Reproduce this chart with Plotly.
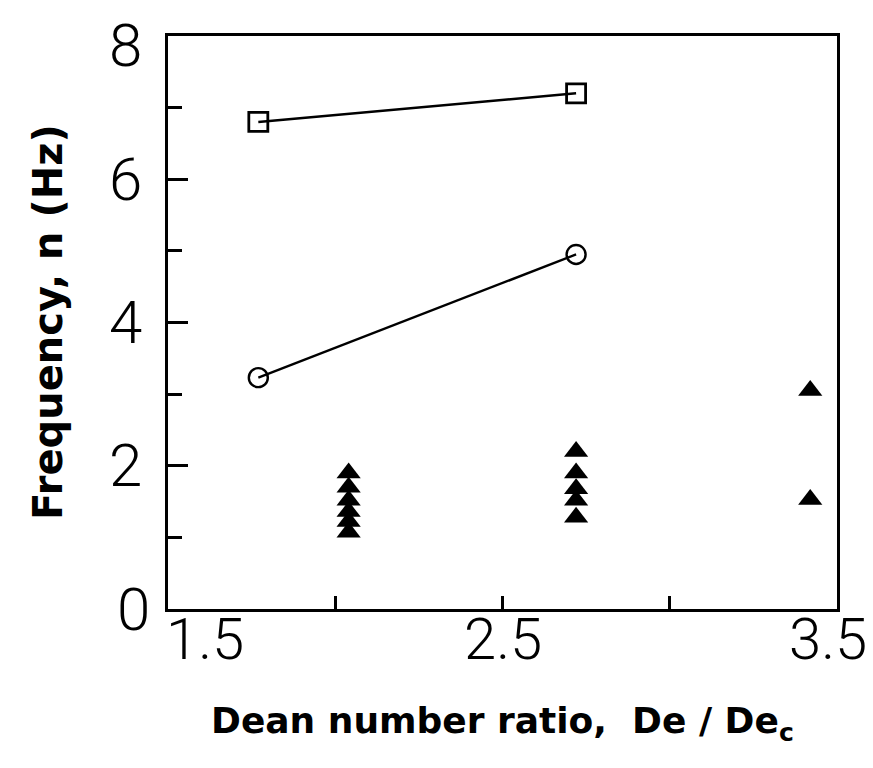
import plotly.graph_objects as go

# Data
sq_x = [1.77, 2.72]
sq_y = [6.8, 7.2]
circ_x = [1.77, 2.72]
circ_y = [3.23, 4.95]
tri1_x = [2.04] * 6
tri1_y = [1.9, 1.7, 1.52, 1.36, 1.22, 1.07]
tri2_x = [2.72] * 5
tri2_y = [2.2, 1.9, 1.68, 1.52, 1.28]
tri3_x = [3.42, 3.42]
tri3_y = [3.05, 1.53]

x_tickvals = [1.5, 2.0, 2.5, 3.0, 3.5]
x_label_vals = [1.5, 2.5, 3.5]
x_label_text = ["1.5", "2.5", "3.5"]
y_tickvals = [0, 2, 4, 6, 8]
y_ticktext = ["0", "2", "4", "6", "8"]

fig = go.Figure()
fig.add_trace(go.Scatter(x=sq_x, y=sq_y, mode="lines+markers",
                         line=dict(color="black", width=2.4),
                         marker=dict(symbol="square-open", size=19, color="black", line=dict(width=2.8))))
fig.add_trace(go.Scatter(x=circ_x, y=circ_y, mode="lines+markers",
                         line=dict(color="black", width=2.4),
                         marker=dict(symbol="circle-open", size=19, color="black", line=dict(width=2.4))))
for tx, ty in [(tri1_x, tri1_y), (tri2_x, tri2_y), (tri3_x, tri3_y)]:
    fig.add_trace(go.Scatter(x=tx, y=ty, mode="markers",
                             marker=dict(symbol="triangle-up", size=21, color="black")))

font_xt = dict(family="Roboto, Liberation Sans, Arial", size=58, color="black", weight=300)
font_yt = dict(family="Roboto, Liberation Sans, Arial", size=60, color="black", weight=300)
font_title_x = dict(family="DejaVu Sans", size=36, color="black", weight=700)
font_title_y = dict(family="DejaVu Sans", size=40, color="black", weight=700)

# x tick labels
n_lab = len(x_label_vals)
for i, (v, t) in enumerate(zip(x_label_vals, x_label_text)):
    if i == 0:
        anchor, shift = "left", -4
    elif i == n_lab - 1:
        anchor, shift = "right", 32
    else:
        anchor, shift = "center", 0
    fig.add_annotation(x=v, y=0, xref="x", yref="paper", text=t, showarrow=False,
                       xanchor=anchor, xshift=shift,
                       yanchor="top", yshift=6, font=font_xt)

# y tick labels
n_y = len(y_tickvals)
for i, (v, t) in enumerate(zip(y_tickvals, y_ticktext)):
    if i == n_y - 1:
        fig.add_annotation(x=0, y=1, xref="paper", yref="paper", text=t, showarrow=False,
                           xanchor="right", xshift=-24, yanchor="top", yshift=28, font=font_yt)
    else:
        fig.add_annotation(x=0, y=v, xref="paper", yref="y", text=t, showarrow=False,
                           xanchor="right", xshift=(-16 if v == 0 else -24),
                           yanchor="middle", font=font_yt)

fig.update_layout(
    width=873, height=768,
    margin=dict(l=160, r=44, t=28, b=167),
    paper_bgcolor="white", plot_bgcolor="white",
    showlegend=False,
    xaxis=dict(range=[1.5, 3.5], tickvals=x_tickvals, showticklabels=False,
               ticks="inside", ticklen=13, tickwidth=2.5, tickcolor="black",
               showline=True, linecolor="black", linewidth=3, mirror=True,
               showgrid=False, zeroline=False, automargin=False),
    yaxis=dict(range=[0, 8], tickvals=y_tickvals, showticklabels=False,
               ticks="inside", ticklen=20, tickwidth=2.5, tickcolor="black",
               minor=dict(dtick=1, tick0=1, ticks="inside", ticklen=14, tickwidth=2.5, tickcolor="black"),
               showline=True, linecolor="black", linewidth=3, mirror=True,
               showgrid=False, zeroline=False, automargin=False),
)

fig.add_annotation(x=0.5, y=-0.2, xref="paper", yref="paper", yanchor="middle",
                   text="Dean number ratio,  De / De<sub>c</sub>", showarrow=False, font=font_title_x)
fig.add_annotation(x=-0.18, y=0.5, xref="paper", yref="paper", xanchor="center", showarrow=False,
                   text="Frequency, n (Hz)", textangle=-90, font=font_title_y)

fig.write_html("out.html")
